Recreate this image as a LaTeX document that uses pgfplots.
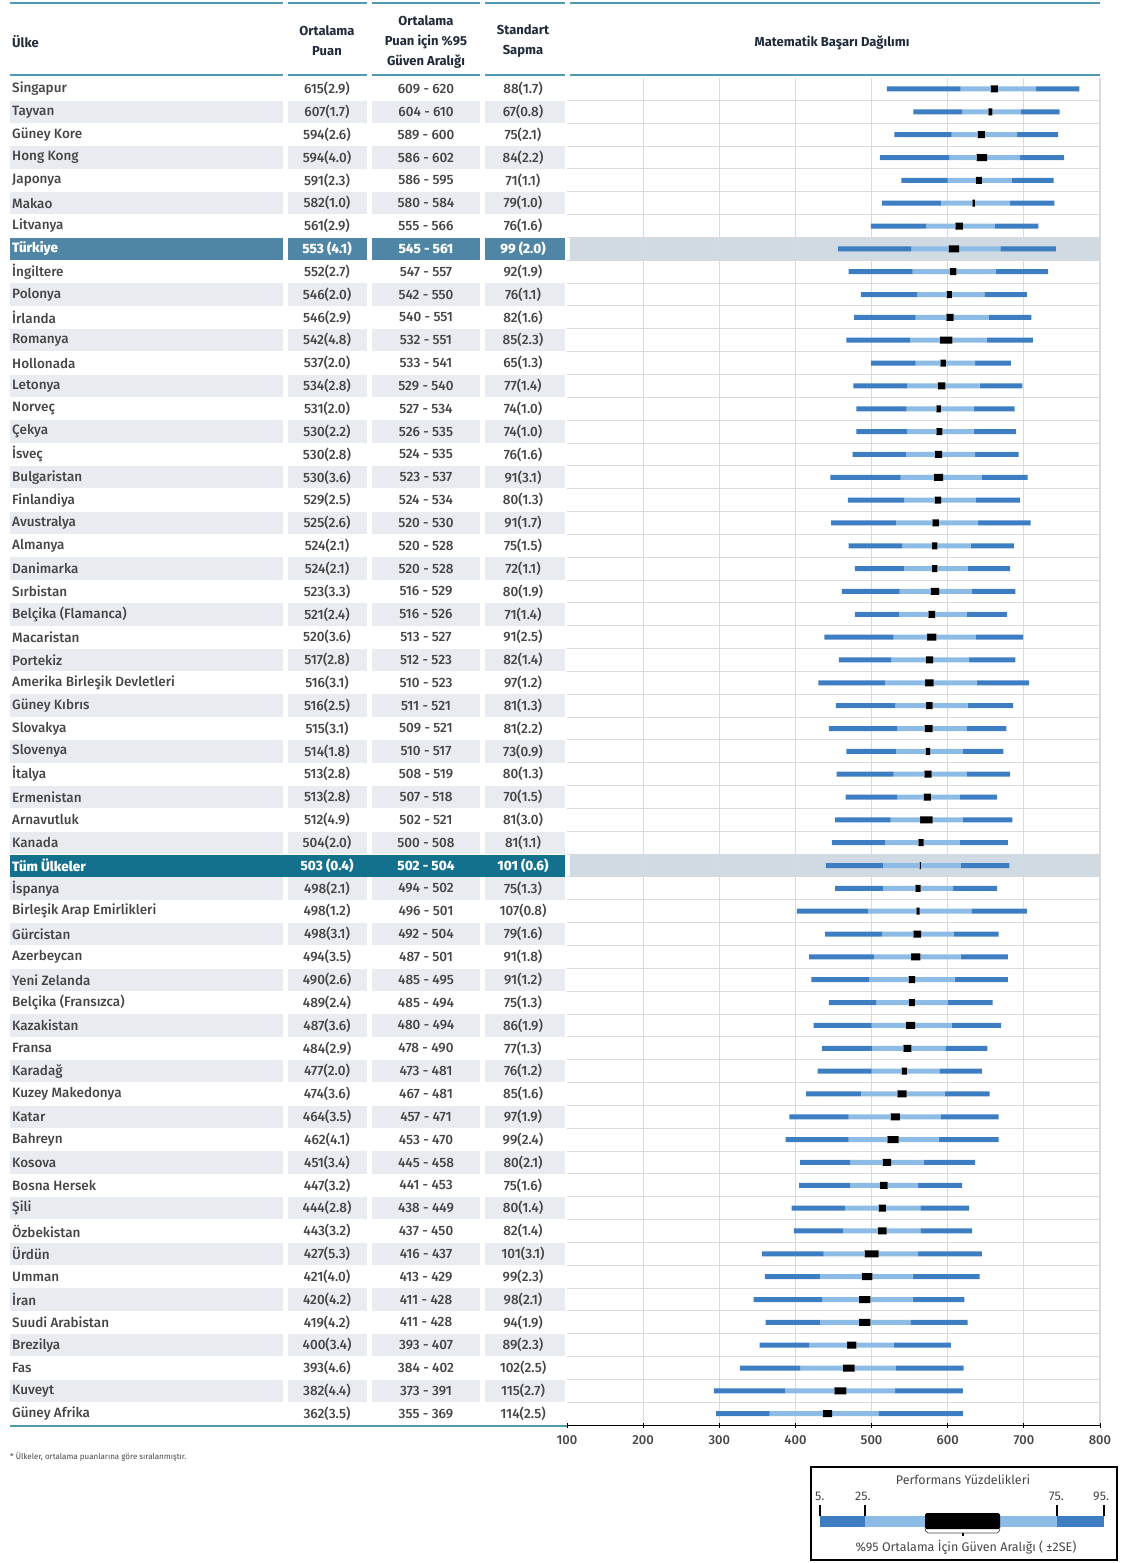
\documentclass[border=0pt]{standalone}
\usepackage{fontspec}
\setmainfont{Fira Sans}
\newfontfamily\medfont{Fira Sans Medium}
\usepackage{pgfplots}
\usepackage{pgfplotstable}
\pgfplotsset{compat=1.18}
\definecolor{teal1}{HTML}{4E9BB0}
\definecolor{cellgray}{HTML}{E8ECF1}
\definecolor{hlTR}{HTML}{4F86A5}
\definecolor{hlALL}{HTML}{13718E}
\definecolor{hlchart}{HTML}{CFDAE2}
\definecolor{txt}{HTML}{454545}
\definecolor{hdr}{HTML}{1F2A3A}
\definecolor{dblue}{HTML}{3D7EC3}
\definecolor{lblue}{HTML}{8CBBE5}
\definecolor{gridc}{HTML}{DADADA}
\newcommand\tabfont{\medfont\fontsize{13.5}{15}\selectfont}
\newcommand\hdrfont{\fontsize{13}{20}\selectfont\bfseries}

\pgfplotstableread[col sep=comma]{
idx,name,mean,ci,sd
1,Singapur,615(2.9),609 - 620,88(1.7)
2,Tayvan,607(1.7),604 - 610,67(0.8)
3,Güney Kore,594(2.6),589 - 600,75(2.1)
4,Hong Kong,594(4.0),586 - 602,84(2.2)
5,Japonya,591(2.3),586 - 595,71(1.1)
6,Makao,582(1.0),580 - 584,79(1.0)
7,Litvanya,561(2.9),555 - 566,76(1.6)
9,İngiltere,552(2.7),547 - 557,92(1.9)
10,Polonya,546(2.0),542 - 550,76(1.1)
11,İrlanda,546(2.9),540 - 551,82(1.6)
12,Romanya,542(4.8),532 - 551,85(2.3)
13,Hollonada,537(2.0),533 - 541,65(1.3)
14,Letonya,534(2.8),529 - 540,77(1.4)
15,Norveç,531(2.0),527 - 534,74(1.0)
16,Çekya,530(2.2),526 - 535,74(1.0)
17,İsveç,530(2.8),524 - 535,76(1.6)
18,Bulgaristan,530(3.6),523 - 537,91(3.1)
19,Finlandiya,529(2.5),524 - 534,80(1.3)
20,Avustralya,525(2.6),520 - 530,91(1.7)
21,Almanya,524(2.1),520 - 528,75(1.5)
22,Danimarka,524(2.1),520 - 528,72(1.1)
23,Sırbistan,523(3.3),516 - 529,80(1.9)
24,Belçika (Flamanca),521(2.4),516 - 526,71(1.4)
25,Macaristan,520(3.6),513 - 527,91(2.5)
26,Portekiz,517(2.8),512 - 523,82(1.4)
27,Amerika Birleşik Devletleri,516(3.1),510 - 523,97(1.2)
28,Güney Kıbrıs,516(2.5),511 - 521,81(1.3)
29,Slovakya,515(3.1),509 - 521,81(2.2)
30,Slovenya,514(1.8),510 - 517,73(0.9)
31,İtalya,513(2.8),508 - 519,80(1.3)
32,Ermenistan,513(2.8),507 - 518,70(1.5)
33,Arnavutluk,512(4.9),502 - 521,81(3.0)
34,Kanada,504(2.0),500 - 508,81(1.1)
36,İspanya,498(2.1),494 - 502,75(1.3)
37,Birleşik Arap Emirlikleri,498(1.2),496 - 501,107(0.8)
38,Gürcistan,498(3.1),492 - 504,79(1.6)
39,Azerbeycan,494(3.5),487 - 501,91(1.8)
40,Yeni Zelanda,490(2.6),485 - 495,91(1.2)
41,Belçika (Fransızca),489(2.4),485 - 494,75(1.3)
42,Kazakistan,487(3.6),480 - 494,86(1.9)
43,Fransa,484(2.9),478 - 490,77(1.3)
44,Karadağ,477(2.0),473 - 481,76(1.2)
45,Kuzey Makedonya,474(3.6),467 - 481,85(1.6)
46,Katar,464(3.5),457 - 471,97(1.9)
47,Bahreyn,462(4.1),453 - 470,99(2.4)
48,Kosova,451(3.4),445 - 458,80(2.1)
49,Bosna Hersek,447(3.2),441 - 453,75(1.6)
50,Şili,444(2.8),438 - 449,80(1.4)
51,Özbekistan,443(3.2),437 - 450,82(1.4)
52,Ürdün,427(5.3),416 - 437,101(3.1)
53,Umman,421(4.0),413 - 429,99(2.3)
54,İran,420(4.2),411 - 428,98(2.1)
55,Suudi Arabistan,419(4.2),411 - 428,94(1.9)
56,Brezilya,400(3.4),393 - 407,89(2.3)
57,Fas,393(4.6),384 - 402,102(2.5)
58,Kuveyt,382(4.4),373 - 391,115(2.7)
59,Güney Afrika,362(3.5),355 - 369,114(2.5)
}\tabtext

\pgfplotstableread[col sep=comma]{
idx,name,mean,ci,sd
8,Türkiye,553 (4.1),545 - 561,99 (2.0)
35,Tüm Ülkeler,503 (0.4),502 - 504,101 (0.6)
}\tabhl

% percentile bars as read on the axis: p5 p25 mean-box centre, half width, p75 p95
\pgfplotstableread{
idx p5 p25 c h p75 p95
1 520 617 661 4.8 716 773
2 555 619 656 2.6 696 747
3 530 605 644 4.8 691 745
4 511 602 645 6.9 695 753
5 539 600 641 3.9 684 739
6 514 591 634 1.7 682 740
7 499 572 615 4.8 662 719
8 456 552 608 6.9 669 742
9 470 554 607 4.3 663 732
10 486 560 602 3.5 648 704
11 477 558 603 4.8 654 710
12 467 551 598 8.2 651 712
13 499 558 594 3.5 636 683
14 476 547 592 4.8 642 698
15 480 546 588 3.0 634 688
16 480 547 589 3.9 634 690
17 475 545 588 4.8 636 693
18 446 538 588 6.1 645 705
19 469 543 587 4.3 637 695
20 447 532 584 4.3 640 709
21 470 540 583 3.5 630 687
22 478 543 583 3.5 626 682
23 461 537 583 5.6 632 689
24 478 536 579 4.3 625 678
25 438 529 579 6.1 637 699
26 457 526 576 4.8 628 689
27 430 518 576 5.6 638 707
28 453 531 576 4.3 626 686
29 444 534 575 5.2 625 677
30 467 532 574 3.0 620 673
31 454 529 574 4.8 625 682
32 466 534 573 4.8 616 665
33 452 525 572 8.2 620 685
34 448 518 565 3.5 616 679
35 440 515 564 0.9 617 681
36 452 515 561 3.5 607 665
37 402 495 561 2.2 631 704
38 439 514 560 5.2 608 667
39 418 503 558 6.1 617 679
40 421 497 553 4.3 609 679
41 444 506 553 3.9 600 659
42 424 500 551 6.1 605 670
43 435 501 547 5.2 597 652
44 429 500 543 3.5 589 645
45 414 486 540 6.1 596 655
46 392 470 531 6.1 591 667
47 387 470 528 7.4 588 667
48 406 472 520 5.6 569 636
49 405 472 516 5.2 561 619
50 395 465 514 4.8 564 628
51 398 463 514 5.6 564 632
52 356 437 500 9.1 561 645
53 360 432 494 6.9 554 642
54 345 435 491 7.4 554 622
55 361 432 491 7.4 551 626
56 353 418 474 6.1 529 604
57 327 406 470 7.8 532 621
58 293 386 459 7.8 531 620
59 296 366 442 6.1 509 620
}\tabbar

\begin{document}
\begin{tikzpicture}
% ---------------- table / layout axis (units = px, y downward negative)
\begin{axis}[at={(0pt,0pt)}, anchor=north west, scale only axis,
  width=1120pt, height=1563pt, xmin=0, xmax=1120, ymin=-1563, ymax=0,
  hide axis, clip=false]
  % alternating cell shading
  \pgfplotsinvokeforeach{2,4,6,8,10,12,14,16,18,20,22,24,26,28,30,32,34,36,38,40,42,44,46,48,50,52,54,56,58}{
    \fill[cellgray] (axis cs:10,{-89-(#1-1)*22.84+11.2}) rectangle (axis cs:283,{-89-(#1-1)*22.84-11.2});
    \fill[cellgray] (axis cs:288,{-89-(#1-1)*22.84+11.2}) rectangle (axis cs:367,{-89-(#1-1)*22.84-11.2});
    \fill[cellgray] (axis cs:372,{-89-(#1-1)*22.84+11.2}) rectangle (axis cs:480,{-89-(#1-1)*22.84-11.2});
    \fill[cellgray] (axis cs:485,{-89-(#1-1)*22.84+11.2}) rectangle (axis cs:565,{-89-(#1-1)*22.84-11.2});
  }
  % highlighted rows
  \fill[hlTR] (axis cs:10,-237.8) rectangle (axis cs:283,-260.0);
  \fill[hlTR] (axis cs:288,-237.8) rectangle (axis cs:367,-260.0);
  \fill[hlTR] (axis cs:372,-237.8) rectangle (axis cs:480,-260.0);
  \fill[hlTR] (axis cs:485,-237.8) rectangle (axis cs:565,-260.0);
  \fill[hlchart] (axis cs:570,-237.6) rectangle (axis cs:1100,-260.2);
  \fill[hlALL] (axis cs:10,-854.5) rectangle (axis cs:565,-876.7);
  \fill[hlchart] (axis cs:570,-854.3) rectangle (axis cs:1100,-876.9);
  % rules
  \draw[teal1, line width=2.6pt] (axis cs:10,-3) -- (axis cs:283,-3);
  \draw[teal1, line width=2.6pt] (axis cs:288,-3) -- (axis cs:367,-3);
  \draw[teal1, line width=2.6pt] (axis cs:372,-3) -- (axis cs:480,-3);
  \draw[teal1, line width=2.6pt] (axis cs:485,-3) -- (axis cs:565,-3);
  \draw[teal1, line width=2.6pt] (axis cs:570,-3) -- (axis cs:1100,-3);
  \draw[teal1, line width=2.6pt] (axis cs:10,-75) -- (axis cs:283,-75);
  \draw[teal1, line width=2.6pt] (axis cs:288,-75) -- (axis cs:367,-75);
  \draw[teal1, line width=2.6pt] (axis cs:372,-75) -- (axis cs:480,-75);
  \draw[teal1, line width=2.6pt] (axis cs:485,-75) -- (axis cs:565,-75);
  \draw[teal1, line width=2.6pt] (axis cs:570,-75) -- (axis cs:1100,-75);
  \draw[teal1, line width=2pt] (axis cs:10,-1426) -- (axis cs:567,-1426);
  % headers
  \node[anchor=west, text=hdr, font=\hdrfont, inner sep=0pt] at (axis cs:12,-42) {Ülke};
  \node[align=center, text=hdr, font=\hdrfont, inner sep=0pt] at (axis cs:327,-41) {Ortalama\\Puan};
  \node[align=center, text=hdr, font=\hdrfont, inner sep=0pt] at (axis cs:426,-42) {Ortalama\\Puan için \%95\\Güven Aralığı};
  \node[align=center, text=hdr, font=\hdrfont, inner sep=0pt] at (axis cs:523,-41) {Standart\\Sapma};
  \node[text=hdr, font=\hdrfont, inner sep=0pt] at (axis cs:832,-43) {Matematik Başarı Dağılımı};
  % table text
  \addplot[draw=none, mark=none, nodes near coords, point meta=explicit symbolic,
    every node near coord/.append style={anchor=west, inner sep=0pt, font=\tabfont, text=txt}]
    table[x expr=12, y expr={-(89+(\thisrow{idx}-1)*22.84)}, meta=name] {\tabtext};
  \addplot[draw=none, mark=none, nodes near coords, point meta=explicit symbolic,
    every node near coord/.append style={anchor=center, inner sep=0pt, font=\tabfont, text=txt}]
    table[x expr=327, y expr={-(89+(\thisrow{idx}-1)*22.84)}, meta=mean] {\tabtext};
  \addplot[draw=none, mark=none, nodes near coords, point meta=explicit symbolic,
    every node near coord/.append style={anchor=center, inner sep=0pt, font=\tabfont, text=txt}]
    table[x expr=426, y expr={-(89+(\thisrow{idx}-1)*22.84)}, meta=ci] {\tabtext};
  \addplot[draw=none, mark=none, nodes near coords, point meta=explicit symbolic,
    every node near coord/.append style={anchor=center, inner sep=0pt, font=\tabfont, text=txt}]
    table[x expr=523, y expr={-(89+(\thisrow{idx}-1)*22.84)}, meta=sd] {\tabtext};
  % highlighted text
  \addplot[draw=none, mark=none, nodes near coords, point meta=explicit symbolic,
    every node near coord/.append style={anchor=west, inner sep=0pt, font=\tabfont\bfseries, text=white}]
    table[x expr=12, y expr={-(89+(\thisrow{idx}-1)*22.84)}, meta=name] {\tabhl};
  \addplot[draw=none, mark=none, nodes near coords, point meta=explicit symbolic,
    every node near coord/.append style={anchor=center, inner sep=0pt, font=\tabfont\bfseries, text=white}]
    table[x expr=327, y expr={-(89+(\thisrow{idx}-1)*22.84)}, meta=mean] {\tabhl};
  \addplot[draw=none, mark=none, nodes near coords, point meta=explicit symbolic,
    every node near coord/.append style={anchor=center, inner sep=0pt, font=\tabfont\bfseries, text=white}]
    table[x expr=426, y expr={-(89+(\thisrow{idx}-1)*22.84)}, meta=ci] {\tabhl};
  \addplot[draw=none, mark=none, nodes near coords, point meta=explicit symbolic,
    every node near coord/.append style={anchor=center, inner sep=0pt, font=\tabfont\bfseries, text=white}]
    table[x expr=523, y expr={-(89+(\thisrow{idx}-1)*22.84)}, meta=sd] {\tabhl};
  % footnote
  \node[anchor=west, text=txt, font=\fontsize{8}{10}\selectfont, inner sep=0pt] at (axis cs:10,-1457) {* Ülkeler, ortalama puanlarına göre sıralanmıştır.};
  % legend box
  \draw[black, line width=1.3pt] (axis cs:811,-1467) rectangle (axis cs:1117,-1560);
  \node[text=txt, font=\fontsize{12.5}{14}\selectfont, inner sep=0pt] at (axis cs:963,-1480) {Performans Yüzdelikleri};
  \node[anchor=west, text=txt, font=\fontsize{12.5}{14}\selectfont, inner sep=0pt] at (axis cs:815,-1496) {5.};
  \node[anchor=west, text=txt, font=\fontsize{12.5}{14}\selectfont, inner sep=0pt] at (axis cs:855,-1496) {25.};
  \node[anchor=west, text=txt, font=\fontsize{12.5}{14}\selectfont, inner sep=0pt] at (axis cs:1049,-1496) {75.};
  \node[anchor=west, text=txt, font=\fontsize{12.5}{14}\selectfont, inner sep=0pt] at (axis cs:1093,-1496) {95.};
  \draw[black, line width=1.2pt] (axis cs:820,-1505) -- (axis cs:820,-1516);
  \draw[black, line width=1.2pt] (axis cs:865,-1505) -- (axis cs:865,-1516);
  \draw[black, line width=1.2pt] (axis cs:1057,-1505) -- (axis cs:1057,-1516);
  \draw[black, line width=1.2pt] (axis cs:1104,-1505) -- (axis cs:1104,-1516);
  \fill[dblue] (axis cs:820,-1516) rectangle (axis cs:865,-1527);
  \fill[lblue] (axis cs:865,-1516) rectangle (axis cs:1057,-1527);
  \fill[dblue] (axis cs:1057,-1516) rectangle (axis cs:1104,-1527);
  \fill[black, rounded corners=1.5pt] (axis cs:925,-1513) rectangle (axis cs:1000,-1529);
  \draw[black!70, line width=0.7pt, rounded corners=2pt] (axis cs:925,-1527) -- (axis cs:926,-1533) -- (axis cs:999,-1533) -- (axis cs:1000,-1527);
  \draw[black, line width=1.2pt] (axis cs:963,-1533) -- (axis cs:963,-1536);
  \node[text=txt, font=\fontsize{12.5}{14}\selectfont, inner sep=0pt] at (axis cs:966,-1547) {\%95 Ortalama İçin Güven Aralığı ( ±2SE)};
\end{axis}

% ---------------- distribution chart axis
\begin{axis}[at={(567pt,-77.58pt)}, anchor=north west, scale only axis,
  width=533pt, height=1347.56pt,
  xmin=100, xmax=800, ymin=-59.5, ymax=-0.5,
  xbar stacked,
  axis x line*=bottom, axis y line*=left,
  y axis line style={draw=none},
  x axis line style={black, line width=1pt, -},
  xtick={100,200,...,800},
  minor xtick={200,300,...,800},
  xminorgrids, minor grid style={gridc, line width=1.2pt}, minor tick length=0pt,
  ytick={-58.5,-57.5,...,-1.5}, yticklabels={}, ymajorgrids,
  major grid style={gridc, line width=1pt},
  ytick style={draw=none},
  xtick style={black, line width=1pt}, major tick length=5pt, xtick align=center,
  xticklabel style={font=\medfont\fontsize{13}{15}\selectfont, text=txt, yshift=-4pt},
  /pgf/number format/assume math mode=true,
  /pgf/number format/1000 sep={},
]
  \addplot[draw=none, fill=none, bar width=5pt] table[x=p5, y expr=-\thisrow{idx}] {\tabbar};
  \addplot[draw=none, fill=dblue, bar width=5pt] table[x expr=\thisrow{p25}-\thisrow{p5}, y expr=-\thisrow{idx}] {\tabbar};
  \addplot[draw=none, fill=lblue, bar width=5pt] table[x expr=\thisrow{c}-\thisrow{h}-\thisrow{p25}, y expr=-\thisrow{idx}] {\tabbar};
  \addplot[draw=none, fill=black, bar width=7pt] table[x expr=2*\thisrow{h}, y expr=-\thisrow{idx}] {\tabbar};
  \addplot[draw=none, fill=lblue, bar width=5pt] table[x expr=\thisrow{p75}-\thisrow{c}-\thisrow{h}, y expr=-\thisrow{idx}] {\tabbar};
  \addplot[draw=none, fill=dblue, bar width=5pt] table[x expr=\thisrow{p95}-\thisrow{p75}, y expr=-\thisrow{idx}] {\tabbar};
\end{axis}
\pgfresetboundingbox
\useasboundingbox (0pt,0pt) rectangle (1120pt,-1563pt);
\end{tikzpicture}
\end{document}
